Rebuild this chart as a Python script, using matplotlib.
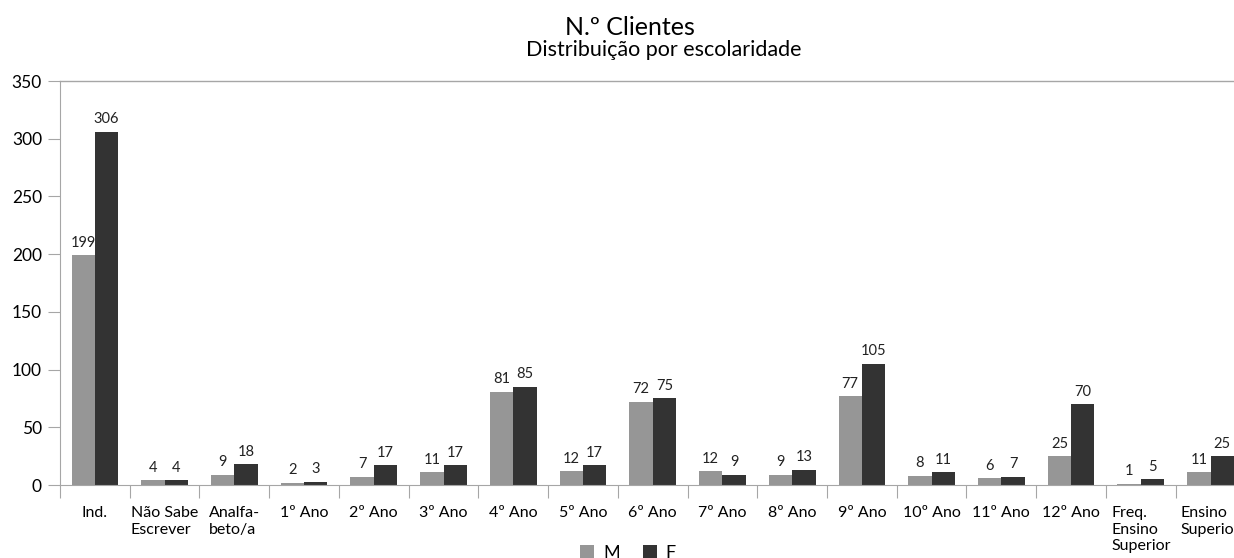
import matplotlib.pyplot as plt
import numpy as np

categories = ['Ind.', 'Não Sabe\nEscrever', 'Analfa-\nbeto/a', '1º Ano', '2º Ano', '3º Ano',
              '4º Ano', '5º Ano', '6º Ano', '7º Ano', '8º Ano', '9º Ano', '10º Ano',
              '11º Ano', '12º Ano', 'Freq.\nEnsino\nSuperior', 'Ensino\nSuperior']
m_vals = [199, 4, 9, 2, 7, 11, 81, 12, 72, 12, 9, 77, 8, 6, 25, 1, 11]
f_vals = [306, 4, 18, 3, 17, 17, 85, 17, 75, 9, 13, 105, 11, 7, 70, 5, 25]

plt.rcParams['font.family'] = ['Lato', 'DejaVu Sans']

fig = plt.figure(figsize=(12.34, 5.58), dpi=100)
ax = fig.add_axes([60 / 1234, 73 / 558, 1185.4 / 1234, 404 / 558])

x = np.arange(len(categories))
width = 0.335
axis_col = '#a6a6a6'

b1 = ax.bar(x - width / 2, m_vals, width, color='#969696', label='M')
b2 = ax.bar(x + width / 2, f_vals, width, color='#333333', label='F')

# value labels above the bars
for rects in [b1, b2]:
    for rect in rects:
        h = rect.get_height()
        ax.annotate(f'{int(h)}', xy=(rect.get_x() + rect.get_width() / 2, h),
                    xytext=(0, 4), textcoords='offset points',
                    ha='center', va='bottom', fontsize=10.5, color='#222222')

ax.set_xlim(-0.5, len(categories) - 0.5)
ax.set_ylim(0, 350)
ax.set_yticks(range(0, 351, 50))
ax.tick_params(axis='y', labelsize=12.5, length=9, color=axis_col, pad=4)

# tick marks between groups, labels at group centres
ax.set_xticks(np.arange(len(categories) + 1) - 0.5, minor=False)
ax.set_xticklabels([])
ax.set_xticks(x, minor=True)
ax.set_xticklabels(categories, minor=True, fontsize=11.5, multialignment='left',
                   va='top', linespacing=1.25)
ax.tick_params(axis='x', which='major', length=9, color=axis_col)
ax.tick_params(axis='x', which='minor', length=0, pad=15)

for s in ['top', 'right']:
    ax.spines[s].set_visible(False)
ax.spines['left'].set_color(axis_col)
ax.spines['bottom'].set_color(axis_col)
ax.axhline(350, color=axis_col, linewidth=1, clip_on=False)

fig.text(630 / 1234, 1 - 35 / 558, 'N.º Clientes', ha='center', va='baseline', fontsize=18)
fig.text(664 / 1234, 1 - 56 / 558, 'Distribuição por escolaridade', ha='center', va='baseline',
         fontsize=15.5)

fig.legend(handles=[b1, b2], labels=['M', 'F'], loc='center', bbox_to_anchor=(628 / 1234, 1 - 553 / 558),
           ncol=2, frameon=False, fontsize=13, handlelength=0.75, handleheight=0.75,
           columnspacing=1.3, handletextpad=0.5)

fig.savefig('out.png', dpi=100)
